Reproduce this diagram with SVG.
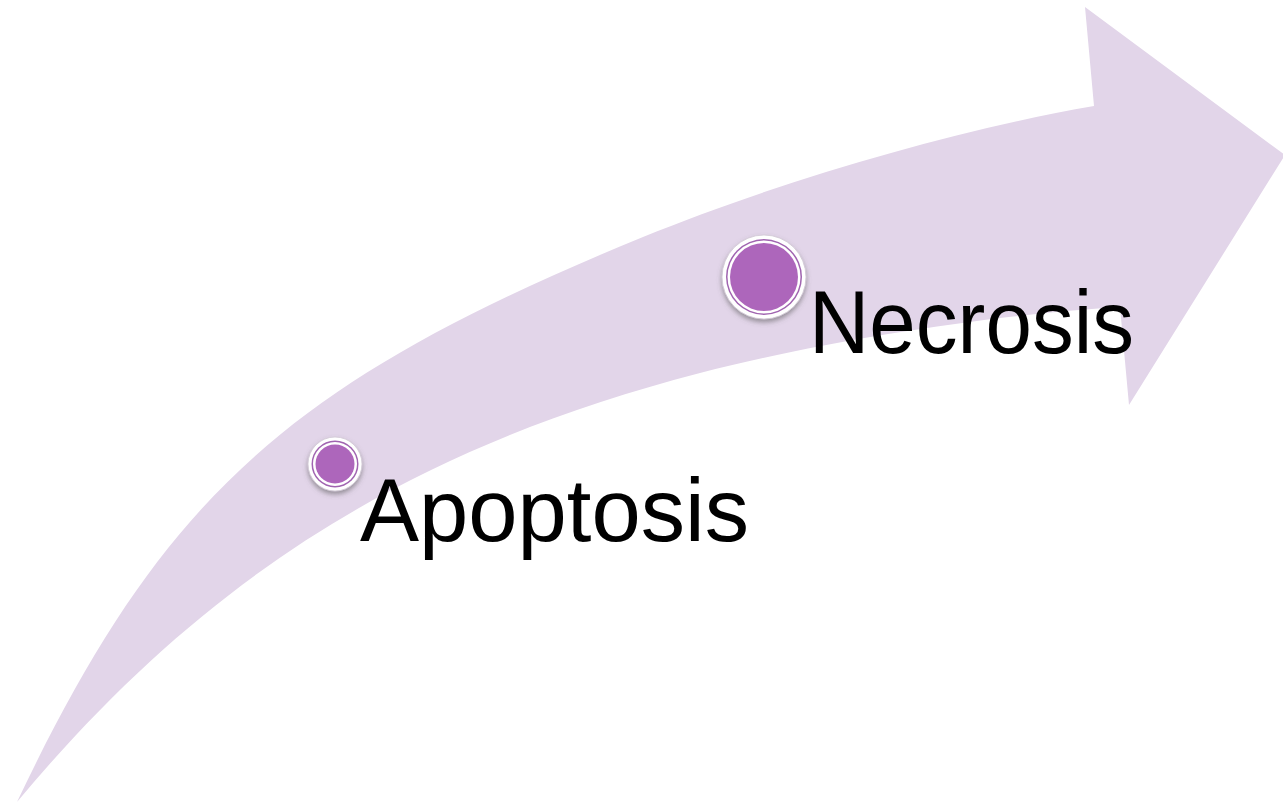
<svg xmlns="http://www.w3.org/2000/svg" width="1283" height="803" viewBox="0 0 1283 803">
<style>
.arrow{fill:#E2D5E9;stroke:none}
.label{font-family:"Liberation Sans",Arial,sans-serif;font-size:89px;fill:#000}
.ring-out{fill:#fff;stroke:#d0c8d4;stroke-width:0.8}
.ring-mid{fill:#a064b0}
.ring-in{fill:#fff}
.core{fill:#AD66BB}
</style>
<defs>
<filter id="sh" x="-30%" y="-30%" width="160%" height="170%">
<feDropShadow dx="0" dy="3" stdDeviation="2.5" flood-color="#555" flood-opacity="0.55"/>
</filter>
</defs>
<g id="connectors">
<path class="arrow" d="M17,802 C163,495.4 288.2,382.4 643,237 C778.7,181.4 959.1,129 1094,106 L1085,7 L1285,155 L1129,405 L1120,307 C990.4,314.8 822.4,341.2 700,373 C409.2,448.6 204.3,577.3 17,802 Z"/>
</g>
<g id="node-apoptosis">
<circle class="ring-out" cx="335" cy="464" r="27" filter="url(#sh)"/>
<circle class="ring-mid" cx="335" cy="464" r="23.5"/>
<circle class="ring-in" cx="335" cy="464" r="22"/>
<circle class="core" cx="335" cy="464" r="19.5"/>
<text class="label" x="360" y="541" textLength="389" lengthAdjust="spacingAndGlyphs">Apoptosis</text>
</g>
<g id="node-necrosis">
<circle class="ring-out" cx="764" cy="277" r="42" filter="url(#sh)"/>
<circle class="ring-mid" cx="764" cy="277" r="38"/>
<circle class="ring-in" cx="764" cy="277" r="36.5"/>
<circle class="core" cx="764" cy="277" r="34"/>
<text class="label" x="809" y="353" textLength="325" lengthAdjust="spacingAndGlyphs">Necrosis</text>
</g>
</svg>
